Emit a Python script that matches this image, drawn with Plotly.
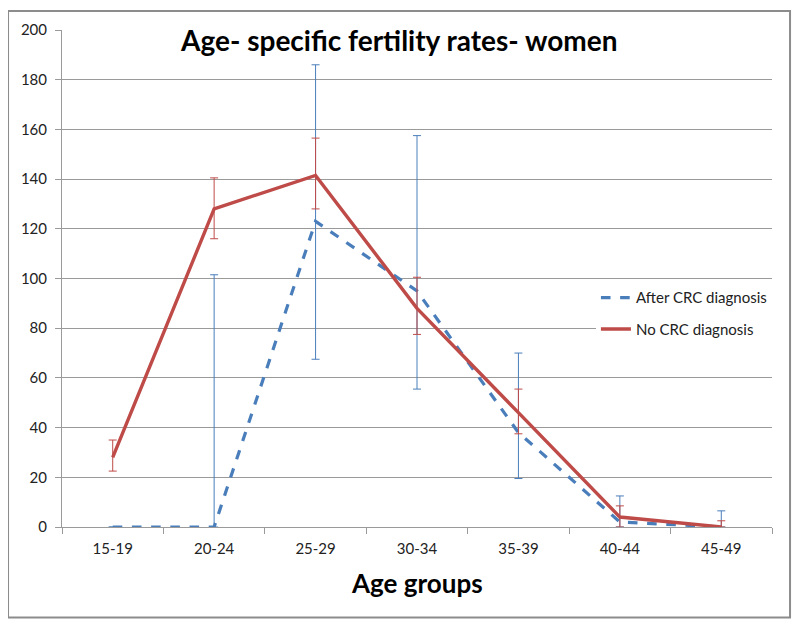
import plotly.graph_objects as go

categories = ["15-19", "20-24", "25-29", "30-34", "35-39", "40-44", "45-49"]

after_crc = [0, 0, 123, 95, 38, 2, 0]
after_crc_upper = [0, 101.5, 186, 157.5, 70, 12.5, 6.5]
after_crc_lower = [0, 0, 67.5, 55.5, 19.5, 0, 0]

no_crc = [28, 128, 141.5, 88, 46, 4, 0]
no_crc_upper = [35, 140.5, 156.5, 100.5, 55.5, 8.5, 2.5]
no_crc_lower = [22.5, 116, 128, 77.5, 37.5, 0, 0]

blue = "#4A7EBB"
red = "#BE4B48"

def plus(vals, up):
    return [u - v for v, u in zip(vals, up)]

def minus(vals, lo):
    return [v - l for v, l in zip(vals, lo)]

fig = go.Figure()
fig.add_trace(go.Scatter(
    x=categories, y=after_crc, mode="lines", name="After CRC diagnosis", legendgroup="a",
    line=dict(color=blue, width=3.2, dash="dash"),
    error_y=dict(type="data", symmetric=False, array=plus(after_crc, after_crc_upper),
                 arrayminus=minus(after_crc, after_crc_lower), color=blue, thickness=1, width=4),
))
fig.add_trace(go.Scatter(
    x=categories, y=no_crc, mode="lines", name="No CRC diagnosis", legendgroup="b",
    line=dict(color=red, width=3.4),
    error_y=dict(type="data", symmetric=False, array=plus(no_crc, no_crc_upper),
                 arrayminus=minus(no_crc, no_crc_lower), color=red, thickness=1, width=4),
))

grid = "#9A9A9A"
font = "Lato, 'Open Sans', sans-serif"
tickcol = "#222222"

# page body has an 8px margin, so the figure is offset by 8px on screen
fig.update_layout(
    width=792, height=620,
    margin=dict(l=54, r=28, t=19, b=101),
    paper_bgcolor="white", plot_bgcolor="white",
    font=dict(family=font, size=15, color=tickcol),
    showlegend=True,
    legend=dict(x=0.752, y=0.43, xanchor="left", yanchor="middle", bgcolor="white",
                font=dict(size=15, color="#222222"), tracegroupgap=9),
    shapes=[dict(type="rect", xref="paper", yref="paper",
                 x0=-0.076, x1=1.0254, y0=-0.182, y1=1.038,
                 line=dict(color="#8C8C8C", width=2), fillcolor="rgba(0,0,0,0)", layer="below")],
    annotations=[
        dict(text="<b>Age- specific fertility rates- women</b>", xref="paper", yref="paper",
             x=0.475, y=0.98, xanchor="center", yanchor="middle", showarrow=False,
             bgcolor="white", borderpad=3, font=dict(size=28, color="black", family=font)),
        dict(text="<b>Age groups</b>", xref="paper", yref="paper",
             x=0.5, y=-0.112, xanchor="center", yanchor="middle", showarrow=False,
             font=dict(size=26, color="black", family=font)),
    ],
)
fig.update_xaxes(type="category", range=[-0.5, 6.5], showline=True, linecolor=grid, linewidth=1,
                 ticks="outside", tickson="boundaries", ticklen=6, tickcolor=grid,
                 ticklabelstandoff=8,
                 showgrid=False, tickfont=dict(size=15, color=tickcol))
fig.update_yaxes(range=[0, 200], dtick=20, showline=True, linecolor=grid, linewidth=1,
                 ticks="outside", ticklen=6, tickcolor=grid, showgrid=True, gridcolor=grid,
                 ticklabelstandoff=5,
                 gridwidth=1, zeroline=False, tickfont=dict(size=15, color=tickcol))

fig.write_html("out.html")
